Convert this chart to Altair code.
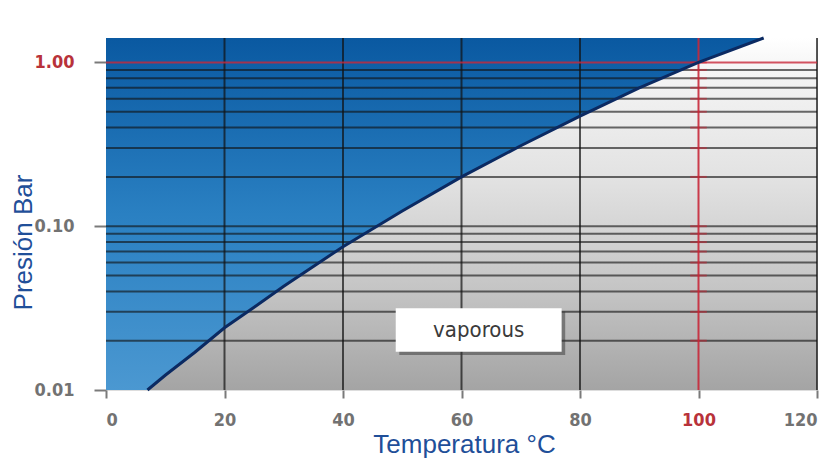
import altair as alt
import pandas as pd

# ---- data ----
curve_t = [7, 10, 15, 20, 25, 30, 40, 50, 60, 70, 80, 90, 100, 111]
curve_p = [0.010, 0.0123, 0.017, 0.024, 0.032, 0.043, 0.075, 0.124, 0.20, 0.31, 0.47, 0.70, 1.0, 1.41]
left_t = [0]
left_p = [0.01]
top_p = 1.41
grid_p = [0.02, 0.03, 0.04, 0.05, 0.06, 0.07, 0.08, 0.09, 0.10,
          0.2, 0.3, 0.4, 0.5, 0.6, 0.7, 0.8, 0.9]
grid_t = [20, 40, 60, 80, 120]
red_t = [100]
red_p = [1.0]
x_ticks = [0, 20, 40, 60, 80, 100, 120]
y_ticks = [0.01, 0.1, 1.0]
label_text = ["vaporous"]
label_x = [62.9]
label_y = [0.0233]
box_x = [48.9, 76.9]
box_y = [0.0171, 0.0316]

W, H = 711, 352
xs = alt.Scale(domain=[0, 120], nice=False, zero=False)
ys = alt.Scale(type="log", domain=[0.01, top_p], nice=False)

lab_font = "Liberation Sans Narrow, DejaVu Sans Condensed, sans-serif"
title_blue = "#1f4f99"

x_axis = alt.Axis(values=x_ticks, grid=False, domain=False, tickColor="#7a7a7a",
                  tickSize=8, tickWidth=2, labelFont=lab_font, labelFontSize=18,
                  labelFontWeight="bold", labelPadding=13,
                  labelColor={"condition": {"test": "datum.value == 100", "value": "#b8323a"}, "value": "#727272"},
                  title="Temperatura °C", titleColor=title_blue, titleFont="Liberation Sans",
                  titleFontSize=26, titleFontWeight="normal",
                  titleX=358, titleY=62, titleBaseline="alphabetic", titleAlign="center")
y_axis = alt.Axis(values=y_ticks, format=".2f", grid=False, domain=False, tickColor="#7a7a7a",
                  tickSize=12, tickWidth=2, labelFont=lab_font, labelFontSize=18,
                  labelFontWeight="bold", labelPadding=20,
                  labelColor={"condition": {"test": "datum.value == 1", "value": "#b8323a"}, "value": "#727272"},
                  title="Presión Bar", titleColor=title_blue, titleFont="Liberation Sans",
                  titleFontSize=26, titleFontWeight="normal",
                  titleX=-75, titleY=204, titleBaseline="alphabetic", titleAlign="center", titleAngle=270)

# background (vapour) gradient
bg_df = pd.DataFrame({"x": [0], "x2": [120], "y": [0.01], "y2": [top_p]})
bg = alt.Chart(bg_df).mark_rect(
    color=alt.Gradient(gradient="linear", x1=0, x2=0, y1=0, y2=1,
                       stops=[alt.GradientStop(color="#ffffff", offset=0),
                              alt.GradientStop(color="#f6f6f6", offset=0.08),
                              alt.GradientStop(color="#e2e2e2", offset=0.4),
                              alt.GradientStop(color="#c4c4c4", offset=0.72),
                              alt.GradientStop(color="#a4a4a4", offset=1)])
).encode(x=alt.X("x:Q", scale=xs, axis=x_axis), x2="x2:Q",
         y=alt.Y("y:Q", scale=ys, axis=y_axis), y2="y2:Q")

# liquid region (blue)
area_df = pd.DataFrame({"t": left_t + curve_t, "p": left_p + curve_p})
area_df["top"] = top_p
area = alt.Chart(area_df).mark_area(
    color=alt.Gradient(gradient="linear", x1=0, x2=0, y1=0, y2=1,
                       stops=[alt.GradientStop(color="#0a59a1", offset=0),
                              alt.GradientStop(color="#2a80c2", offset=0.5),
                              alt.GradientStop(color="#4b98d1", offset=1)])
).encode(x=alt.X("t:Q", scale=xs), y=alt.Y("p:Q", scale=ys), y2="top:Q")

# horizontal grid
hgrid = alt.Chart(pd.DataFrame({"p": grid_p})).mark_rule(
    color="#111111", opacity=0.62, strokeWidth=2
).encode(y=alt.Y("p:Q", scale=ys))

vgrid = alt.Chart(pd.DataFrame({"t": grid_t})).mark_rule(
    color="#111111", opacity=0.7, strokeWidth=2
).encode(x=alt.X("t:Q", scale=xs))

red_v = alt.Chart(pd.DataFrame({"t": red_t})).mark_rule(
    color="#c8283a", opacity=0.9, strokeWidth=2
).encode(x=alt.X("t:Q", scale=xs))

red_h = alt.Chart(pd.DataFrame({"p": red_p})).mark_rule(
    color="#c8283a", opacity=0.8, strokeWidth=2
).encode(y=alt.Y("p:Q", scale=ys))

cross_df = pd.DataFrame({"p": grid_p + red_p})
cross = alt.Chart(cross_df).mark_rule(color="#d02030", opacity=0.5, strokeWidth=2).encode(
    x=alt.datum(98.6, scale=xs), x2=alt.datum(101.4), y=alt.Y("p:Q", scale=ys))

curve = alt.Chart(pd.DataFrame({"t": curve_t, "p": curve_p})).mark_line(
    color="#0b2a62", strokeWidth=3
).encode(x=alt.X("t:Q", scale=xs), y=alt.Y("p:Q", scale=ys))

# label box with shadow
shadow_df = pd.DataFrame({"x": [box_x[0] + 0.6], "x2": [box_x[1] + 0.6],
                          "y": [box_y[0] * 0.955], "y2": [box_y[1] * 0.955]})
shadow = alt.Chart(shadow_df).mark_rect(color="#333333", opacity=0.5).encode(
    x=alt.X("x:Q", scale=xs), x2="x2:Q", y=alt.Y("y:Q", scale=ys), y2="y2:Q")
box_df = pd.DataFrame({"x": [box_x[0]], "x2": [box_x[1]], "y": [box_y[0]], "y2": [box_y[1]]})
box = alt.Chart(box_df).mark_rect(color="#ffffff").encode(
    x=alt.X("x:Q", scale=xs), x2="x2:Q", y=alt.Y("y:Q", scale=ys), y2="y2:Q")
text = alt.Chart(pd.DataFrame({"t": label_text, "x": label_x, "y": label_y})).mark_text(
    font="DejaVu Sans Condensed", fontSize=22, color="#3a3a3a", baseline="middle", align="center"
).encode(x=alt.X("x:Q", scale=xs), y=alt.Y("y:Q", scale=ys), text="t:N")

chart = alt.layer(bg, area, hgrid, vgrid, red_v, red_h, cross, curve, shadow, box, text).properties(
    width=W, height=H, autosize=alt.AutoSizeParams(type="none"),
    padding={"left": 98, "top": 30, "right": 7, "bottom": 68}
).configure_view(stroke=None).configure(background="#ffffff")

chart.save("out.html", embed_options={"renderer": "svg", "actions": False})
